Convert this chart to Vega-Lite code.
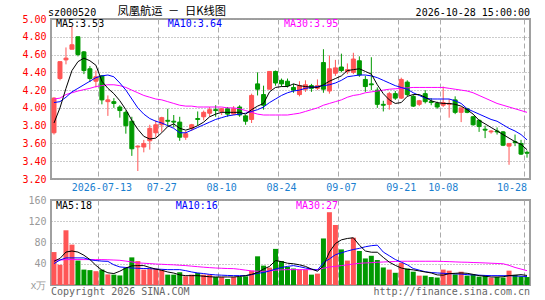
{
  "$schema": "https://vega.github.io/schema/vega-lite/v6.json",
  "padding": {"left": 18, "top": 5, "right": 0, "bottom": 0},
  "spacing": 1,
  "background": "white",
  "config": {
    "view": {"stroke": "#a0a0a0", "strokeWidth": 2},
    "axis": {"domain": false, "ticks": false, "title": null, "labelFont": "DejaVu Sans Mono", "labelFontSize": 10, "gridColor": "#aaaaaa", "gridWidth": 1, "labelOverlap": false},
    "text": {"font": "DejaVu Sans Mono", "fontSize": 10}
  },
  "datasets": {
    "k": [
      {"d":"2026-07-01","o":3.72,"h":4.12,"l":3.70,"c":4.11,"v":62,"m5":3.83,"m10":4.06,"m30":4.10,"vm5":44.7,"vm10":40.3,"vm30":46.5},
      {"d":"2026-07-02","o":4.33,"h":4.52,"l":4.31,"c":4.52,"v":38,"m5":4.00,"m10":4.07,"m30":4.11,"vm5":50,"vm10":47,"vm30":47},
      {"d":"2026-07-03","o":4.54,"h":4.68,"l":4.49,"c":4.56,"v":103,"m5":4.22,"m10":4.12,"m30":4.15,"vm5":62,"vm10":51,"vm30":47.8},
      {"d":"2026-07-06","o":4.66,"h":4.92,"l":4.66,"c":4.71,"v":76,"m5":4.42,"m10":4.18,"m30":4.17,"vm5":64,"vm10":51,"vm30":47.8},
      {"d":"2026-07-07","o":4.80,"h":4.80,"l":4.58,"c":4.60,"v":46,"m5":4.52,"m10":4.22,"m30":4.19,"vm5":62,"vm10":51,"vm30":47.8},
      {"d":"2026-07-08","o":4.63,"h":4.64,"l":4.38,"c":4.42,"v":29,"m5":4.56,"m10":4.26,"m30":4.205,"vm5":56,"vm10":51,"vm30":47.8},
      {"d":"2026-07-09","o":4.44,"h":4.47,"l":4.29,"c":4.33,"v":28,"m5":4.53,"m10":4.30,"m30":4.22,"vm5":48,"vm10":47.5,"vm30":47.8},
      {"d":"2026-07-10","o":4.30,"h":4.42,"l":4.23,"c":4.35,"v":26,"m5":4.48,"m10":4.34,"m30":4.24,"vm5":37,"vm10":46,"vm30":47.8},
      {"d":"2026-07-13","o":4.36,"h":4.37,"l":4.04,"c":4.09,"v":29,"m5":4.30,"m10":4.36,"m30":4.25,"vm5":28,"vm10":45,"vm30":47.8},
      {"d":"2026-07-14","o":4.07,"h":4.14,"l":3.91,"c":4.09,"v":20,"m5":4.22,"m10":4.37,"m30":4.26,"vm5":23,"vm10":44.5,"vm30":47.5},
      {"d":"2026-07-15","o":4.07,"h":4.11,"l":4.00,"c":4.05,"v":19.5,"m5":4.16,"m10":4.35,"m30":4.26,"vm5":21.5,"vm10":38,"vm30":47},
      {"d":"2026-07-16","o":4.01,"h":4.03,"l":3.89,"c":3.97,"v":18,"m5":4.08,"m10":4.28,"m30":4.25,"vm5":26,"vm10":34,"vm30":46.5},
      {"d":"2026-07-17","o":3.95,"h":3.97,"l":3.71,"c":3.80,"v":32,"m5":3.98,"m10":4.20,"m30":4.23,"vm5":32,"vm10":33,"vm30":45},
      {"d":"2026-07-20","o":3.85,"h":3.90,"l":3.46,"c":3.54,"v":52,"m5":3.86,"m10":4.10,"m30":4.20,"vm5":36,"vm10":32,"vm30":43.5},
      {"d":"2026-07-21","o":3.56,"h":3.58,"l":3.29,"c":3.57,"v":45,"m5":3.76,"m10":4.00,"m30":4.17,"vm5":36.5,"vm10":31.5,"vm30":41.6},
      {"d":"2026-07-22","o":3.56,"h":3.64,"l":3.50,"c":3.60,"v":29,"m5":3.68,"m10":3.93,"m30":4.14,"vm5":36.5,"vm10":31,"vm30":41},
      {"d":"2026-07-23","o":3.63,"h":3.81,"l":3.53,"c":3.77,"v":30,"m5":3.65,"m10":3.88,"m30":4.12,"vm5":33,"vm10":30.8,"vm30":40.3},
      {"d":"2026-07-24","o":3.72,"h":3.86,"l":3.67,"c":3.81,"v":31,"m5":3.66,"m10":3.85,"m30":4.10,"vm5":30,"vm10":30,"vm30":39.5},
      {"d":"2026-07-27","o":3.81,"h":3.90,"l":3.73,"c":3.89,"v":29,"m5":3.72,"m10":3.83,"m30":4.09,"vm5":27.6,"vm10":29.5,"vm30":39},
      {"d":"2026-07-28","o":3.86,"h":3.99,"l":3.79,"c":3.85,"v":19.5,"m5":3.79,"m10":3.80,"m30":4.07,"vm5":24.5,"vm10":28.9,"vm30":38.4},
      {"d":"2026-07-29","o":3.85,"h":3.92,"l":3.78,"c":3.84,"v":19.5,"m5":3.82,"m10":3.77,"m30":4.05,"vm5":22.5,"vm10":28.9,"vm30":38},
      {"d":"2026-07-30","o":3.84,"h":3.90,"l":3.63,"c":3.67,"v":24,"m5":3.77,"m10":3.72,"m30":4.03,"vm5":19,"vm10":28.9,"vm30":37.2},
      {"d":"2026-07-31","o":3.67,"h":3.74,"l":3.64,"c":3.71,"v":16.5,"m5":3.75,"m10":3.72,"m30":4.02,"vm5":17.6,"vm10":27,"vm30":36.5},
      {"d":"2026-08-03","o":3.77,"h":3.82,"l":3.74,"c":3.81,"v":19.5,"m5":3.77,"m10":3.75,"m30":4.02,"vm5":17.6,"vm10":24.5,"vm30":35.5},
      {"d":"2026-08-04","o":3.88,"h":3.96,"l":3.80,"c":3.87,"v":22.7,"m5":3.80,"m10":3.78,"m30":4.01,"vm5":17.6,"vm10":22.7,"vm30":34.5},
      {"d":"2026-08-05","o":3.90,"h":3.97,"l":3.86,"c":3.95,"v":19.5,"m5":3.84,"m10":3.81,"m30":4.01,"vm5":16.5,"vm10":21.5,"vm30":33.5},
      {"d":"2026-08-06","o":3.94,"h":4.01,"l":3.90,"c":3.98,"v":19.5,"m5":3.90,"m10":3.84,"m30":4.01,"vm5":15.5,"vm10":20,"vm30":32.7},
      {"d":"2026-08-07","o":3.98,"h":4.03,"l":3.90,"c":3.97,"v":15,"m5":3.93,"m10":3.87,"m30":4.01,"vm5":15.1,"vm10":19,"vm30":32},
      {"d":"2026-08-10","o":3.96,"h":4.00,"l":3.92,"c":3.99,"v":15,"m5":3.95,"m10":3.89,"m30":4.01,"vm5":15.1,"vm10":18.5,"vm30":31.5},
      {"d":"2026-08-11","o":3.99,"h":4.01,"l":3.90,"c":3.93,"v":11.3,"m5":3.95,"m10":3.91,"m30":4.00,"vm5":15.1,"vm10":18,"vm30":31},
      {"d":"2026-08-12","o":3.93,"h":4.02,"l":3.92,"c":3.99,"v":15,"m5":3.95,"m10":3.92,"m30":4.00,"vm5":15.1,"vm10":17.6,"vm30":30.8},
      {"d":"2026-08-13","o":4.01,"h":4.03,"l":3.90,"c":3.92,"v":15,"m5":3.95,"m10":3.93,"m30":3.99,"vm5":16,"vm10":17.6,"vm30":29.5},
      {"d":"2026-08-14","o":3.91,"h":3.92,"l":3.81,"c":3.85,"v":16.4,"m5":3.93,"m10":3.94,"m30":3.97,"vm5":17.6,"vm10":17.6,"vm30":28},
      {"d":"2026-08-17","o":3.87,"h":4.16,"l":3.83,"c":4.14,"v":27,"m5":3.98,"m10":3.96,"m30":3.95,"vm5":20,"vm10":19.5,"vm30":26.5},
      {"d":"2026-08-18","o":4.27,"h":4.40,"l":4.14,"c":4.21,"v":54,"m5":4.02,"m10":3.98,"m30":3.93,"vm5":23.5,"vm10":22,"vm30":25.8},
      {"d":"2026-08-19","o":4.15,"h":4.25,"l":3.98,"c":4.03,"v":36.5,"m5":4.05,"m10":4.01,"m30":3.92,"vm5":30,"vm10":23.5,"vm30":25.8},
      {"d":"2026-08-20","o":4.21,"h":4.41,"l":4.21,"c":4.41,"v":32.7,"m5":4.18,"m10":4.06,"m30":3.92,"vm5":35,"vm10":26.5,"vm30":26.5},
      {"d":"2026-08-21","o":4.41,"h":4.42,"l":4.25,"c":4.28,"v":68,"m5":4.23,"m10":4.10,"m30":3.92,"vm5":46,"vm10":30,"vm30":28},
      {"d":"2026-08-24","o":4.31,"h":4.33,"l":4.24,"c":4.27,"v":45,"m5":4.24,"m10":4.14,"m30":3.92,"vm5":44,"vm10":33,"vm30":28.5},
      {"d":"2026-08-25","o":4.30,"h":4.33,"l":4.23,"c":4.25,"v":34,"m5":4.24,"m10":4.17,"m30":3.92,"vm5":41,"vm10":35,"vm30":28.9},
      {"d":"2026-08-26","o":4.23,"h":4.27,"l":4.17,"c":4.20,"v":31,"m5":4.27,"m10":4.19,"m30":3.93,"vm5":40,"vm10":36.5,"vm30":28.9},
      {"d":"2026-08-27","o":4.15,"h":4.30,"l":4.13,"c":4.25,"v":29,"m5":4.25,"m10":4.20,"m30":3.94,"vm5":38,"vm10":34.5,"vm30":28.9},
      {"d":"2026-08-28","o":4.21,"h":4.31,"l":4.18,"c":4.26,"v":29,"m5":4.24,"m10":4.22,"m30":3.96,"vm5":35,"vm10":32,"vm30":28.9},
      {"d":"2026-08-31","o":4.25,"h":4.27,"l":4.18,"c":4.22,"v":19.5,"m5":4.235,"m10":4.23,"m30":3.98,"vm5":30,"vm10":30,"vm30":28.9},
      {"d":"2026-09-01","o":4.22,"h":4.32,"l":4.20,"c":4.25,"v":21.4,"m5":4.23,"m10":4.24,"m30":4.00,"vm5":26,"vm10":28,"vm30":28.9},
      {"d":"2026-09-02","o":4.51,"h":4.66,"l":4.17,"c":4.21,"v":87.6,"m5":4.26,"m10":4.25,"m30":4.03,"vm5":36,"vm10":42,"vm30":31.5},
      {"d":"2026-09-03","o":4.19,"h":4.59,"l":4.16,"c":4.44,"v":137,"m5":4.30,"m10":4.26,"m30":4.05,"vm5":62,"vm10":49,"vm30":33.9},
      {"d":"2026-09-04","o":4.39,"h":4.54,"l":4.36,"c":4.45,"v":113,"m5":4.33,"m10":4.28,"m30":4.07,"vm5":78,"vm10":57,"vm30":35},
      {"d":"2026-09-07","o":4.46,"h":4.61,"l":4.40,"c":4.42,"v":67,"m5":4.36,"m10":4.31,"m30":4.09,"vm5":85,"vm10":60.5,"vm30":36.5},
      {"d":"2026-09-08","o":4.41,"h":4.50,"l":4.38,"c":4.43,"v":46,"m5":4.42,"m10":4.35,"m30":4.12,"vm5":87.6,"vm10":64,"vm30":38},
      {"d":"2026-09-09","o":4.40,"h":4.62,"l":4.38,"c":4.55,"v":89,"m5":4.43,"m10":4.36,"m30":4.14,"vm5":88.9,"vm10":66.8,"vm30":39.5},
      {"d":"2026-09-10","o":4.53,"h":4.58,"l":4.35,"c":4.37,"v":64,"m5":4.44,"m10":4.37,"m30":4.15,"vm5":75,"vm10":69,"vm30":40.8},
      {"d":"2026-09-11","o":4.32,"h":4.36,"l":4.18,"c":4.24,"v":50,"m5":4.41,"m10":4.37,"m30":4.17,"vm5":64,"vm10":72,"vm30":41.5},
      {"d":"2026-09-14","o":4.27,"h":4.57,"l":4.20,"c":4.26,"v":55,"m5":4.38,"m10":4.36,"m30":4.18,"vm5":61.7,"vm10":74,"vm30":42},
      {"d":"2026-09-15","o":4.20,"h":4.23,"l":4.00,"c":4.04,"v":47,"m5":4.26,"m10":4.34,"m30":4.19,"vm5":61.7,"vm10":75,"vm30":42.8},
      {"d":"2026-09-16","o":4.04,"h":4.08,"l":3.96,"c":4.03,"v":33,"m5":4.16,"m10":4.31,"m30":4.20,"vm5":52,"vm10":62,"vm30":43.3},
      {"d":"2026-09-17","o":4.04,"h":4.18,"l":3.98,"c":4.16,"v":29,"m5":4.09,"m10":4.28,"m30":4.21,"vm5":43,"vm10":55,"vm30":43.8},
      {"d":"2026-09-18","o":4.16,"h":4.19,"l":4.09,"c":4.11,"v":23,"m5":4.05,"m10":4.25,"m30":4.215,"vm5":37,"vm10":48,"vm30":44.3},
      {"d":"2026-09-21","o":4.11,"h":4.34,"l":4.10,"c":4.32,"v":42,"m5":4.06,"m10":4.23,"m30":4.22,"vm5":32,"vm10":43,"vm30":44.7},
      {"d":"2026-09-22","o":4.29,"h":4.31,"l":4.13,"c":4.15,"v":31,"m5":4.13,"m10":4.21,"m30":4.225,"vm5":29.5,"vm10":38,"vm30":44.7},
      {"d":"2026-09-23","o":4.13,"h":4.15,"l":4.01,"c":4.02,"v":25,"m5":4.15,"m10":4.17,"m30":4.23,"vm5":28.5,"vm10":31,"vm30":44.7},
      {"d":"2026-09-24","o":4.04,"h":4.09,"l":4.02,"c":4.08,"v":17.6,"m5":4.15,"m10":4.14,"m30":4.23,"vm5":26.5,"vm10":28,"vm30":44.7},
      {"d":"2026-09-28","o":4.16,"h":4.20,"l":4.05,"c":4.07,"v":17.6,"m5":4.12,"m10":4.11,"m30":4.23,"vm5":24.5,"vm10":25,"vm30":44.7},
      {"d":"2026-09-29","o":4.07,"h":4.11,"l":4.03,"c":4.06,"v":15,"m5":4.08,"m10":4.10,"m30":4.23,"vm5":22.7,"vm10":23.5,"vm30":44.7},
      {"d":"2026-09-30","o":4.05,"h":4.07,"l":3.99,"c":4.01,"v":14,"m5":4.06,"m10":4.10,"m30":4.23,"vm5":19,"vm10":22.7,"vm30":44.7},
      {"d":"2026-10-08","o":4.03,"h":4.24,"l":4.01,"c":4.06,"v":29,"m5":4.05,"m10":4.10,"m30":4.23,"vm5":18.5,"vm10":22,"vm30":44.3},
      {"d":"2026-10-09","o":4.04,"h":4.10,"l":3.89,"c":4.05,"v":27,"m5":4.05,"m10":4.10,"m30":4.22,"vm5":21.4,"vm10":21.4,"vm30":44},
      {"d":"2026-10-12","o":4.09,"h":4.13,"l":3.93,"c":3.95,"v":20,"m5":4.04,"m10":4.08,"m30":4.21,"vm5":22,"vm10":21,"vm30":43.5},
      {"d":"2026-10-13","o":3.95,"h":4.00,"l":3.84,"c":4.00,"v":25,"m5":4.02,"m10":4.05,"m30":4.20,"vm5":22.7,"vm10":20.5,"vm30":43},
      {"d":"2026-10-14","o":3.99,"h":4.00,"l":3.94,"c":3.95,"v":17.6,"m5":3.98,"m10":3.99,"m30":4.19,"vm5":22,"vm10":19.5,"vm30":42.8},
      {"d":"2026-10-15","o":3.90,"h":3.91,"l":3.80,"c":3.81,"v":19.5,"m5":3.93,"m10":3.96,"m30":4.17,"vm5":20,"vm10":19,"vm30":42.3},
      {"d":"2026-10-16","o":3.86,"h":3.87,"l":3.73,"c":3.79,"v":15.7,"m5":3.86,"m10":3.93,"m30":4.14,"vm5":17.6,"vm10":18.5,"vm30":42},
      {"d":"2026-10-19","o":3.76,"h":3.80,"l":3.66,"c":3.75,"v":17.6,"m5":3.82,"m10":3.90,"m30":4.11,"vm5":16.5,"vm10":18,"vm30":41.5},
      {"d":"2026-10-20","o":3.73,"h":3.75,"l":3.71,"c":3.74,"v":13.8,"m5":3.78,"m10":3.87,"m30":4.08,"vm5":15.1,"vm10":17.6,"vm30":41},
      {"d":"2026-10-21","o":3.74,"h":3.78,"l":3.70,"c":3.73,"v":15,"m5":3.74,"m10":3.85,"m30":4.05,"vm5":15.1,"vm10":17.6,"vm30":40.5},
      {"d":"2026-10-22","o":3.73,"h":3.74,"l":3.57,"c":3.58,"v":14,"m5":3.70,"m10":3.81,"m30":4.03,"vm5":15.5,"vm10":17.6,"vm30":40},
      {"d":"2026-10-23","o":3.57,"h":3.60,"l":3.36,"c":3.60,"v":27,"m5":3.66,"m10":3.77,"m30":4.01,"vm5":17.6,"vm10":17.6,"vm30":37},
      {"d":"2026-10-26","o":3.62,"h":3.70,"l":3.57,"c":3.61,"v":19,"m5":3.62,"m10":3.74,"m30":3.99,"vm5":18.5,"vm10":17,"vm30":33},
      {"d":"2026-10-27","o":3.60,"h":3.64,"l":3.47,"c":3.48,"v":16,"m5":3.59,"m10":3.70,"m30":3.97,"vm5":19.5,"vm10":16.5,"vm30":30},
      {"d":"2026-10-28","o":3.50,"h":3.52,"l":3.44,"c":3.49,"v":15,"m5":3.53,"m10":3.64,"m30":3.95,"vm5":18,"vm10":16,"vm30":27}
    ]
  },
  "vconcat": [
    {
      "width": 479,
      "height": 160,
      "data": {"name": "k"},
      "encoding": {
        "x": {
          "field": "d", "type": "ordinal",
          "scale": {"type": "band", "paddingInner": 0, "paddingOuter": 0},
          "axis": {
            "values": ["2026-07-13","2026-07-27","2026-08-10","2026-08-24","2026-09-07","2026-09-21","2026-10-08","2026-10-28"],
            "bandPosition": 0,
            "labelExpr": "datum.value == '2026-07-13' ? datum.value : slice(datum.value, 5)",
            "labelAlign": {"condition": {"test": "datum.value == '2026-10-28'", "value": "right"}, "value": "center"},
            "labelColor": "#1a80d0", "labelPadding": 3, "labelFlush": false, "labelAngle": 0, "labelOverlap": false,
            "grid": true, "gridDash": [5, 3], "gridColor": "#aaaaaa", "title": null
          }
        }
      },
      "layer": [
        {
          "mark": {"type": "rule", "strokeWidth": 1},
          "encoding": {
            "y": {"field": "l", "type": "quantitative", "scale": {"domain": [3.2, 5.0], "nice": false, "zero": false},
              "axis": {"values": [3.2,3.4,3.6,3.8,4.0,4.2,4.4,4.6,4.8,5.0], "tickCount": 20, "format": ".2f", "labelColor": "#ff0000", "labelPadding": 5, "grid": true, "gridDash": [1, 2], "gridColor": "#999999", "minExtent": 32, "labelOverlap": false, "labelFlush": false, "title": null}},
            "y2": {"field": "h"},
            "color": {"condition": {"test": "datum.c >= datum.o", "value": "#ff5555"}, "value": "#009900"}
          }
        },
        {
          "mark": {"type": "bar", "width": 4, "strokeWidth": 1},
          "encoding": {
            "y": {"field": "o", "type": "quantitative"},
            "y2": {"field": "c"},
            "fill": {"condition": {"test": "datum.c >= datum.o", "value": "#ff5555"}, "value": "#009900"},
            "stroke": {"condition": {"test": "datum.c >= datum.o", "value": "#ff5555"}, "value": "#009900"}
          }
        },
        {"mark": {"type": "line", "color": "#ff00ff", "strokeWidth": 1}, "encoding": {"y": {"field": "m30", "type": "quantitative"}}},
        {"mark": {"type": "line", "color": "#0000ff", "strokeWidth": 1}, "encoding": {"y": {"field": "m10", "type": "quantitative"}}},
        {"mark": {"type": "line", "color": "#000000", "strokeWidth": 1}, "encoding": {"y": {"field": "m5", "type": "quantitative"}}},
        {"data": {"values": [{}]}, "mark": {"type": "text", "align": "left", "baseline": "middle", "dx": 2, "dy": 5, "color": "#000000"},
          "encoding": {"x": {"datum": "2026-07-01", "type": "ordinal"}, "y": {"datum": 5.0, "type": "quantitative"}, "text": {"value": "MA5:3.53"}}},
        {"data": {"values": [{}]}, "mark": {"type": "text", "align": "left", "baseline": "middle", "dx": 0, "dy": 5, "color": "#0000ff"},
          "encoding": {"x": {"datum": "2026-07-28", "type": "ordinal"}, "y": {"datum": 5.0, "type": "quantitative"}, "text": {"value": "MA10:3.64"}}},
        {"data": {"values": [{}]}, "mark": {"type": "text", "align": "left", "baseline": "middle", "dx": 2.5, "dy": 5, "color": "#ff00ff"},
          "encoding": {"x": {"datum": "2026-08-24", "type": "ordinal"}, "y": {"datum": 5.0, "type": "quantitative"}, "text": {"value": "MA30:3.95"}}},
        {"data": {"values": [{}]}, "mark": {"type": "text", "align": "left", "baseline": "middle", "dx": -6, "dy": -6.5, "color": "#000000"},
          "encoding": {"x": {"datum": "2026-07-01", "type": "ordinal"}, "y": {"datum": 5.0, "type": "quantitative"}, "text": {"value": "sz000520"}}},
        {"data": {"values": [{}]}, "mark": {"type": "text", "align": "center", "baseline": "middle", "dx": -2, "dy": -7, "color": "#000000", "font": "Noto Sans CJK SC", "fontSize": 11.25},
          "encoding": {"x": {"datum": "2026-07-29", "type": "ordinal"}, "y": {"datum": 5.0, "type": "quantitative"}, "text": {"value": "凤凰航运\u2002－\u2002日K线图"}}},
        {"data": {"values": [{}]}, "mark": {"type": "text", "align": "right", "baseline": "middle", "dx": 3, "dy": -6.5, "color": "#000000"},
          "encoding": {"x": {"datum": "2026-10-28", "type": "ordinal"}, "y": {"datum": 5.0, "type": "quantitative"}, "text": {"value": "2026-10-28 15:00:00"}}}
      ]
    },
    {
      "width": 479,
      "height": 85,
      "data": {"name": "k"},
      "encoding": {
        "x": {
          "field": "d", "type": "ordinal",
          "scale": {"type": "band", "paddingInner": 0, "paddingOuter": 0},
          "axis": {
            "values": ["2026-07-13","2026-07-27","2026-08-10","2026-08-24","2026-09-07","2026-09-21","2026-10-08","2026-10-28"],
            "bandPosition": 0, "labels": false,
            "grid": true, "gridDash": [5, 3], "gridColor": "#aaaaaa", "title": null
          }
        }
      },
      "layer": [
        {
          "mark": {"type": "bar", "width": 5},
          "encoding": {
            "y": {"field": "v", "type": "quantitative", "scale": {"domain": [0, 160], "nice": false},
              "axis": {"values": [0, 40, 80, 120, 160], "tickCount": 20, "labelExpr": "datum.value == 0 ? 'x万' : datum.label", "labelColor": "#999999", "labelPadding": 5, "grid": true, "gridDash": [1, 2], "gridColor": "#999999", "minExtent": 32, "labelOverlap": false, "labelFlush": false, "title": null}},
            "color": {"condition": {"test": "datum.c >= datum.o", "value": "#ff5555"}, "value": "#009900"}
          }
        },
        {"mark": {"type": "line", "color": "#ff00ff", "strokeWidth": 1}, "encoding": {"y": {"field": "vm30", "type": "quantitative"}}},
        {"mark": {"type": "line", "color": "#0000ff", "strokeWidth": 1}, "encoding": {"y": {"field": "vm10", "type": "quantitative"}}},
        {"mark": {"type": "line", "color": "#000000", "strokeWidth": 1}, "encoding": {"y": {"field": "vm5", "type": "quantitative"}}},
        {"data": {"values": [{}]}, "mark": {"type": "text", "align": "left", "baseline": "middle", "dx": 2, "dy": 5.5, "color": "#000000"},
          "encoding": {"x": {"datum": "2026-07-01", "type": "ordinal"}, "y": {"datum": 160, "type": "quantitative"}, "text": {"value": "MA5:18"}}},
        {"data": {"values": [{}]}, "mark": {"type": "text", "align": "left", "baseline": "middle", "dx": 2, "dy": 5.5, "color": "#0000ff"},
          "encoding": {"x": {"datum": "2026-07-29", "type": "ordinal"}, "y": {"datum": 160, "type": "quantitative"}, "text": {"value": "MA10:16"}}},
        {"data": {"values": [{}]}, "mark": {"type": "text", "align": "left", "baseline": "middle", "dx": 2.5, "dy": 5.5, "color": "#ff00ff"},
          "encoding": {"x": {"datum": "2026-08-26", "type": "ordinal"}, "y": {"datum": 160, "type": "quantitative"}, "text": {"value": "MA30:27"}}},
        {"data": {"values": [{}]}, "mark": {"type": "text", "align": "left", "baseline": "middle", "dx": -3, "dy": 6.5, "color": "#666666"},
          "encoding": {"x": {"datum": "2026-07-01", "type": "ordinal"}, "y": {"datum": 0, "type": "quantitative"}, "text": {"value": "Copyright 2026 SINA.COM"}}},
        {"data": {"values": [{}]}, "mark": {"type": "text", "align": "right", "baseline": "middle", "dx": 3, "dy": 6.5, "color": "#666666"},
          "encoding": {"x": {"datum": "2026-10-28", "type": "ordinal"}, "y": {"datum": 0, "type": "quantitative"}, "text": {"value": "http://finance.sina.com.cn"}}}
      ]
    }
  ]
}
